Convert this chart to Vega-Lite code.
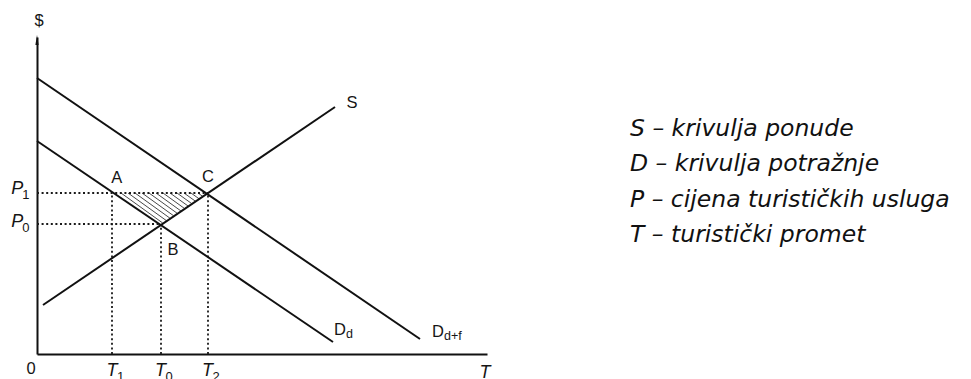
{
  "$schema": "https://vega.github.io/schema/vega-lite/v6.json",
  "width": 450,
  "height": 317,
  "autosize": {"type": "none"},
  "padding": {"left": 37, "top": 37, "right": 484, "bottom": 25},
  "background": "white",
  "config": {"view": {"stroke": null}},
  "datasets": {
    "curves": [
      {"curve": "S", "x": 6, "y": 49},
      {"curve": "S", "x": 298, "y": 247},
      {"curve": "Dd", "x": 0, "y": 213},
      {"curve": "Dd", "x": 296, "y": 12},
      {"curve": "Ddf", "x": 0, "y": 276},
      {"curve": "Ddf", "x": 383, "y": 15}
    ],
    "guides": [
      {"name": "P1", "x": 0, "y": 161, "x2": 171, "y2": 161},
      {"name": "P0", "x": 0, "y": 130, "x2": 124, "y2": 130},
      {"name": "T1", "x": 75, "y": 0, "x2": 75, "y2": 161},
      {"name": "T0", "x": 124, "y": 0, "x2": 124, "y2": 130},
      {"name": "T2", "x": 171, "y": 0, "x2": 171, "y2": 161}
    ],
    "hatch": [
      {"x": 84, "y": 161, "x2": 125.6, "y2": 131.05},
      {"x": 91, "y": 161, "x2": 129.25, "y2": 133.46},
      {"x": 98, "y": 161, "x2": 132.9, "y2": 135.87},
      {"x": 105, "y": 161, "x2": 136.55, "y2": 138.28},
      {"x": 112, "y": 161, "x2": 140.21, "y2": 140.69},
      {"x": 119, "y": 161, "x2": 143.86, "y2": 143.1},
      {"x": 126, "y": 161, "x2": 147.51, "y2": 145.51},
      {"x": 133, "y": 161, "x2": 151.17, "y2": 147.92},
      {"x": 140, "y": 161, "x2": 154.82, "y2": 150.33},
      {"x": 147, "y": 161, "x2": 158.47, "y2": 152.74},
      {"x": 154, "y": 161, "x2": 162.13, "y2": 155.15},
      {"x": 161, "y": 161, "x2": 165.78, "y2": 157.56}
    ],
    "arrow": [{"x": 0, "y": 314}],
    "roman": [
      {"x": 2, "y": 333, "t": "$", "sub": ""},
      {"x": -6, "y": -15, "t": "0", "sub": ""},
      {"x": 79.7, "y": 176.5, "t": "A", "sub": ""},
      {"x": 171, "y": 177.5, "t": "C", "sub": ""},
      {"x": 136, "y": 104, "t": "B", "sub": ""},
      {"x": 315, "y": 251.5, "t": "S", "sub": ""},
      {"x": 303, "y": 24, "t": "D", "sub": "d"},
      {"x": 401, "y": 22.5, "t": "D", "sub": "d+f"}
    ],
    "italic": [
      {"x": -19.8, "y": 165, "t": "P", "sub": "1"},
      {"x": -19.8, "y": 132.5, "t": "P", "sub": "0"},
      {"x": 75, "y": -16.5, "t": "T", "sub": "1"},
      {"x": 123.5, "y": -16.5, "t": "T", "sub": "0"},
      {"x": 170.5, "y": -16.5, "t": "T", "sub": "2"},
      {"x": 448, "y": -19, "t": "T", "sub": ""}
    ],
    "legend": [
      {"x": 593, "y": 218, "t": "S – krivulja ponude"},
      {"x": 593, "y": 183, "t": "D – krivulja potražnje"},
      {"x": 593, "y": 147, "t": "P – cijena turističkih usluga"},
      {"x": 593, "y": 112, "t": "T – turistički promet"}
    ]
  },
  "encoding": {
    "x": {
      "field": "x",
      "type": "quantitative",
      "scale": {"domain": [0, 450], "nice": false, "zero": false},
      "axis": {"domain": true, "domainColor": "#111", "domainWidth": 2, "ticks": false, "labels": false, "grid": false, "title": null}
    },
    "y": {
      "field": "y",
      "type": "quantitative",
      "scale": {"domain": [0, 317], "nice": false, "zero": false},
      "axis": {"domain": true, "domainColor": "#111", "domainWidth": 2, "ticks": false, "labels": false, "grid": false, "title": null}
    }
  },
  "layer": [
    {
      "data": {"name": "hatch"},
      "mark": {"type": "rule", "color": "#333", "strokeWidth": 0.9},
      "encoding": {"x2": {"field": "x2"}, "y2": {"field": "y2"}}
    },
    {
      "data": {"name": "guides"},
      "mark": {"type": "rule", "color": "#1a1a1a", "strokeWidth": 1.8, "strokeDash": [2, 2.6]},
      "encoding": {"x2": {"field": "x2"}, "y2": {"field": "y2"}}
    },
    {
      "data": {"name": "curves"},
      "mark": {"type": "line", "color": "#111", "strokeWidth": 2},
      "encoding": {"detail": {"field": "curve"}}
    },
    {
      "data": {"name": "arrow"},
      "mark": {"type": "point", "shape": "M0,-1L0.32,1L-0.32,1Z", "filled": true, "size": 100, "color": "#111", "opacity": 1}
    },
    {
      "data": {"name": "roman"},
      "mark": {"type": "text", "font": "Liberation Sans", "fontSize": 16.5, "color": "#151515", "align": "center", "baseline": "middle"},
      "encoding": {"text": {"field": "t"}}
    },
    {
      "data": {"name": "roman"},
      "mark": {"type": "text", "font": "Liberation Sans", "fontSize": 12.5, "color": "#151515", "align": "left", "baseline": "middle", "dx": 6, "dy": 4},
      "encoding": {"text": {"field": "sub"}}
    },
    {
      "data": {"name": "italic"},
      "mark": {"type": "text", "font": "Liberation Sans", "fontStyle": "italic", "fontSize": 18, "color": "#151515", "align": "center", "baseline": "middle"},
      "encoding": {"text": {"field": "t"}}
    },
    {
      "data": {"name": "italic"},
      "mark": {"type": "text", "font": "Liberation Sans", "fontSize": 13, "color": "#151515", "align": "left", "baseline": "middle", "dx": 5, "dy": 6},
      "encoding": {"text": {"field": "sub"}}
    },
    {
      "data": {"name": "legend"},
      "mark": {"type": "text", "font": "DejaVu Sans", "fontStyle": "italic", "fontSize": 23.5, "color": "#111", "align": "left", "baseline": "alphabetic"},
      "encoding": {"text": {"field": "t"}}
    }
  ]
}
